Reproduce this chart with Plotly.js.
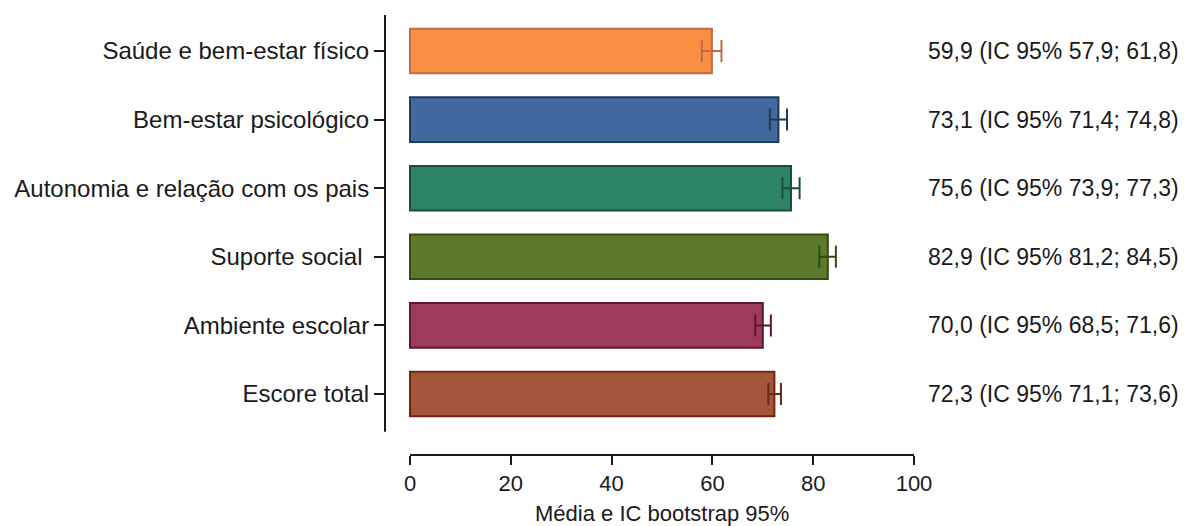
<!DOCTYPE html>
<html>
<head>
<meta charset="utf-8">
<script src="https://cdn.plot.ly/plotly-3.0.1.min.js"></script>
<style>html,body{margin:0;padding:0;background:#fff;}#chart{width:1185px;height:526px;}</style>
</head>
<body>
<div id="chart"></div>
<script>
const categories = ['Saúde e bem-estar físico', 'Bem-estar psicológico', 'Autonomia e relação com os pais', 'Suporte social\u00a0', 'Ambiente escolar', 'Escore total'];
const means = [59.9, 73.1, 75.6, 82.9, 70.0, 72.3];
const lower = [57.9, 71.4, 73.9, 81.2, 68.5, 71.1];
const upper = [61.8, 74.8, 77.3, 84.5, 71.6, 73.6];
const xTicks = [0, 20, 40, 60, 80, 100];
const fillColors = ['#FA8F43', '#42699E', '#2C8366', '#5B7A2B', '#9D3A5E', '#A3553A'];
const edgeColors = ['#C06A48', '#1F3A5C', '#1B4D3D', '#354A16', '#5C1833', '#6B2812'];

const fmt = v => v.toFixed(1).replace('.', ',');
const FONT = 'Liberation Sans, Arial, sans-serif';
const TXT = '#1a1a1a';

const traces = categories.map((c, i) => ({
  type: 'bar',
  orientation: 'h',
  y: [c],
  x: [means[i]],
  width: 0.65,
  marker: {color: fillColors[i], line: {color: edgeColors[i], width: 2}},
  error_x: {
    type: 'data', symmetric: false,
    array: [upper[i] - means[i]],
    arrayminus: [means[i] - lower[i]],
    color: edgeColors[i], thickness: 2, width: 11
  },
  hoverinfo: 'none',
  showlegend: false
}));

const annotations = categories.map((c, i) => ({
  xref: 'paper', yref: 'y',
  x: (926 - 385) / 529, y: c,
  xanchor: 'left', yanchor: 'middle',
  text: `${fmt(means[i])} (IC 95% ${fmt(lower[i])}; ${fmt(upper[i])})`,
  showarrow: false,
  font: {family: FONT, size: 23, color: TXT}
}));
annotations.push({
  xref: 'x', yref: 'paper', x: 50, y: 0,
  xanchor: 'center', yanchor: 'top', yshift: -44,
  text: 'Média e IC bootstrap 95%',
  showarrow: false,
  font: {family: FONT, size: 22, color: TXT}
});

const layout = {
  width: 1185, height: 526,
  margin: {l: 385, r: 271, t: 15, b: 71},
  paper_bgcolor: '#fff', plot_bgcolor: '#fff',
  barmode: 'overlay',
  font: {family: FONT, color: TXT},
  xaxis: {
    range: [-4.96, 100], showgrid: false, zeroline: false, showline: false,
    tickvals: xTicks, ticktext: xTicks.map(String),
    ticks: 'outside', ticklen: 9, tickwidth: 2, tickcolor: '#1a1a1a',
    tickfont: {family: FONT, size: 22, color: TXT}
  },
  yaxis: {
    type: 'category', categoryarray: categories, categoryorder: 'array',
    range: [5.889, -0.525], showgrid: false, zeroline: false, showline: false,
    ticks: 'outside', ticklen: 10, tickwidth: 2, tickcolor: '#1a1a1a',
    tickfont: {family: FONT, size: 24, color: TXT}
  },
  shapes: [
    {type: 'line', xref: 'x', yref: 'paper', x0: 0, x1: 100, y0: 0, y1: 0, line: {color: '#1a1a1a', width: 2}},
    {type: 'line', xref: 'paper', yref: 'y', x0: 0, x1: 0, y0: -0.525, y1: 5.55, line: {color: '#1a1a1a', width: 2}}
  ],
  annotations: annotations
};

Plotly.newPlot('chart', traces, layout, {displayModeBar: false, staticPlot: true});
</script>
</body>
</html>
